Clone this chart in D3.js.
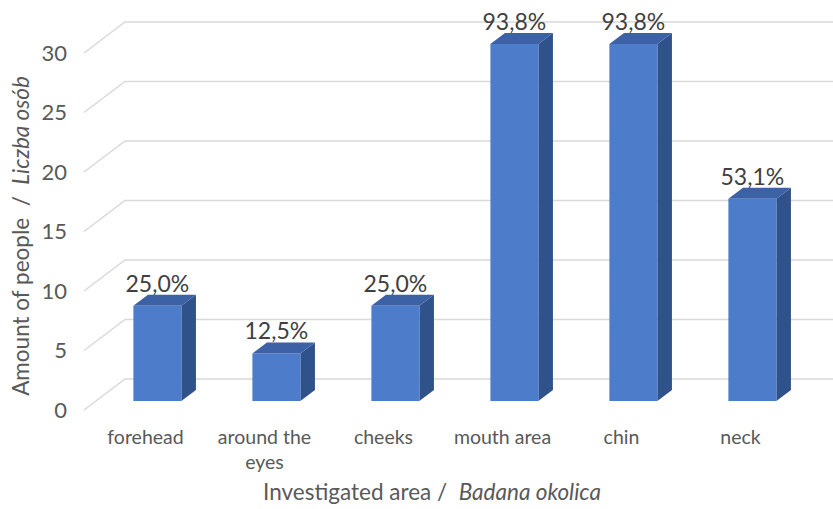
<!DOCTYPE html>
<html><head><meta charset="utf-8">
<script src="https://cdn.jsdelivr.net/npm/d3@7"></script>
<style>html,body{margin:0;padding:0;background:#fff;}svg{display:block;}</style>
</head><body>
<svg id="chart" width="833" height="509"></svg>
<script>
const categories = ["forehead", ["around the","eyes"], "cheeks", "mouth area", "chin", "neck"];
const catKeys = ["forehead", "around the eyes", "cheeks", "mouth area", "chin", "neck"];
const values = [8, 4, 8, 30, 30, 17];
const pctLabels = ["25,0%", "12,5%", "25,0%", "93,8%", "93,8%", "53,1%"];
const yTicks = [0, 5, 10, 15, 20, 25, 30];

const svg = d3.select("#chart");
const font = "Lato, 'Open Sans', sans-serif";

const yFront = d3.scaleLinear().domain([0, 30]).range([410, 53]);
const xBand = d3.scaleBand().domain(catKeys).range([86, 800]).padding(0);
const depth = f => [f * 41, -f * 31];
const barW = 48, fFront = 0.29, fBack = 0.645;

// gridlines
const g = svg.append("g");
yTicks.forEach(v => {
  const y0 = yFront(v), [dx, dy] = depth(1);
  g.append("path")
    .attr("d", `M84,${y0}L${84 + dx},${y0 + dy}L833,${y0 + dy}`)
    .attr("fill", "none").attr("stroke", "#d9d9d9").attr("stroke-width", 1.5);
});

// tick labels
svg.append("g").selectAll("text").data(yTicks).join("text")
  .attr("x", 67).attr("y", d => yFront(d)).attr("dy", "0.35em")
  .attr("text-anchor", "end").attr("font-family", font).attr("font-size", 22)
  .attr("fill", "#595959").text(d => d);

// bars
const bars = svg.append("g");
catKeys.forEach((c, i) => {
  const v = values[i];
  const [fx, fy] = depth(fFront), [bx, by] = depth(fBack);
  const xl = xBand(c) + (xBand.step() - barW) / 2 + fx;
  const xr = xl + barW;
  const yt = yFront(v) + fy, yb = yFront(0) + fy;
  const ddx = bx - fx, ddy = by - fy;
  bars.append("path").attr("d",
    `M${xr},${yt}L${xr + ddx},${yt + ddy}L${xr + ddx},${yb + ddy}L${xr},${yb}Z`)
    .attr("fill", "#30528a");
  bars.append("path").attr("d",
    `M${xl},${yt}L${xl + ddx},${yt + ddy}L${xr + ddx},${yt + ddy}L${xr},${yt}Z`)
    .attr("fill", "#3c61a4");
  bars.append("rect").attr("x", xl).attr("y", yt).attr("width", barW).attr("height", yb - yt)
    .attr("fill", "#4c7cca");
  svg.append("text").attr("x", xl + barW / 2).attr("y", yFront(v) + by - 3)
    .attr("text-anchor", "middle").attr("font-family", font).attr("font-size", 23)
    .attr("fill", "#404040").text(pctLabels[i]);
});

// category labels
catKeys.forEach((c, i) => {
  const lines = Array.isArray(categories[i]) ? categories[i] : [categories[i]];
  const cx = xBand(c) + xBand.bandwidth() / 2;
  const t = svg.append("text").attr("x", cx)
    .attr("y", 444).attr("text-anchor", "middle").attr("font-family", font)
    .attr("font-size", 19.5).attr("fill", "#595959");
  lines.forEach((l, j) => t.append("tspan").attr("x", cx)
    .attr("dy", j === 0 ? 0 : 25).text(l));
});

// axis titles
const xt = svg.append("text").attr("x", 432).attr("y", 500).attr("text-anchor", "middle")
  .attr("font-family", font).attr("font-size", 22.5).attr("fill", "#595959")
  .attr("xml:space", "preserve");
xt.append("tspan").text("Investigated area /  ");
xt.append("tspan").attr("font-style", "italic").text("Badana okolica");

const yt2 = svg.append("text").attr("transform", "translate(29,236) rotate(-90)")
  .attr("text-anchor", "middle").attr("font-family", font).attr("font-size", 22.5)
  .attr("fill", "#595959").attr("xml:space", "preserve");
yt2.append("tspan").text("Amount of people  /  ");
yt2.append("tspan").attr("font-style", "italic").text("Liczba osób");
</script>
</body></html>
